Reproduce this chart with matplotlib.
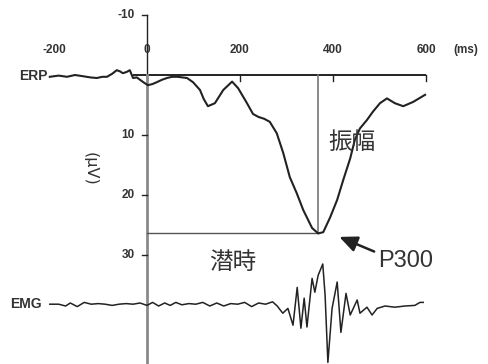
import matplotlib
matplotlib.use("Agg")
import matplotlib.pyplot as plt
from matplotlib.patches import FancyArrowPatch

# ---------------- data ----------------
x_ticks = [-200, 0, 200, 400, 600]
x_tick_labels = ["-200", "0", "200", "400", "600"]
y_ticks = [-10, 10, 20, 30]
y_tick_labels = ["-10", "10", "20", "30"]

# ERP waveform (time ms, amplitude uV; positive plotted downward)
erp_t = [-209, -190, -172, -155, -138, -122, -108, -96, -86, -75, -65, -58, -52, -44,
         -37, -30, -22, -15, -6, 2, 12, 21, 32, 43, 54, 65, 76, 86, 99, 114, 122, 131,
         146, 164, 183, 196, 215, 228, 240, 252, 264, 279, 293, 307, 322, 336, 355,
         368, 379, 394, 409, 422, 437, 447, 458, 473, 486, 501, 516, 533, 551, 572, 598]
erp_v = [0.3, 0.1, 0.3, 0.0, 0.2, 0.4, 0.5, 0.3, 0.3, -0.2, -0.8, -0.6, -0.3, -0.5,
         -0.8, 0.5, 0.4, 0.8, 1.3, 1.7, 1.5, 1.2, 0.8, 0.5, 0.3, 0.3, 0.4, 0.5, 1.2, 2.5, 4.0, 5.2,
         4.7, 2.5, 1.1, 2.2, 4.7, 6.5, 7.0, 7.3, 7.8, 9.7, 13.0, 17.0, 19.7, 22.5, 25.5,
         26.4, 26.2, 23.7, 20.8, 17.5, 13.9, 10.8, 8.9, 7.5, 6.1, 4.7, 3.9, 4.7, 5.2, 4.5, 3.3]

# EMG trace (time ms, deflection, upward positive)
emg_t = [-209, -190, -175, -165, -150, -135, -120, -105, -90, -75, -60, -45, -30, -15,
         0, 12, 25, 38, 50, 62, 75, 90, 105, 120, 135, 150, 165, 180, 195, 210, 225,
         240, 255, 270, 280, 292, 303, 314, 323, 331, 338, 344, 355, 361, 368, 378,
         383, 389, 398, 409, 417, 428, 437, 452, 458, 473, 484, 495, 512, 533, 555,
         576, 587, 594]
emg_v = [0.0, 0.0, -0.3, 0.2, -0.4, 0.3, 0.0, 0.1, 0.0, -0.2, 0.0, 0.1, 0.0, 0.2,
         -0.2, 0.3, -0.3, 0.2, -0.2, 0.3, -0.1, 0.1, 0.0, 0.3, -0.3, 0.2, -0.3, 0.1, 0.0, 0.3, -0.4,
         0.2, 0.0, 0.4, -0.3, -1.5, -0.7, -3.5, 2.8, -4.0, 1.0, -3.8, 4.3, 2.0, 4.8, 6.7,
         1.5, -9.7, -0.7, 3.7, -4.7, 1.8, -1.8, 0.7, -1.5, -0.5, -1.8, -0.7, -0.3, -0.5, -0.3,
         -0.2, 0.3, 0.3]
emg_baseline = 38.2

peak_index = erp_v.index(max(erp_v))
peak_t = erp_t[peak_index]
peak_v = erp_v[peak_index]

# ---------------- figure ----------------
fig = plt.figure(figsize=(4.88, 3.64), dpi=100)
ax = fig.add_axes([0, 0, 1, 1])
px_per_ms = 0.465
px_per_uv = 6.0
ax.set_xlim(-147 / px_per_ms, (488 - 147) / px_per_ms)
ax.set_ylim((364 - 75) / px_per_uv, -75 / px_per_uv)
ax.axis("off")

dark = "#222222"
num_font = dict(family="Liberation Sans", fontweight="bold", fontsize=8.5, color="#333333")

# x baseline + ticks
ax.plot([-30, x_ticks[-1]], [0, 0], color=dark, lw=1.4, solid_capstyle="butt")
for t in x_ticks[2:]:
    ax.plot([t, t], [0, 1.0], color=dark, lw=1.0)
for t, lab in zip(x_ticks, x_tick_labels):
    ax.text(t, -4.1, lab, ha="center", va="center", **num_font)
ax.text(658, -4.1, "(ms)", ha="left", va="center", **num_font)

# y axis + ticks
ax.plot([0, 0], [y_ticks[0], 0], color=dark, lw=1.0)
ax.plot([0, 0], [0, 48.5], color="#8a8a8a", lw=2.0)
for v, lab in zip(y_ticks, y_tick_labels):
    ax.plot([-11, 0], [v, v], color=dark, lw=1.0)
    ax.text(-27, v, lab, ha="right", va="center", **num_font)
ax.text(-123, 15.7, "(\u03bcV)", rotation=-90, ha="center", va="center",
        family="DejaVu Sans", fontsize=11.5, color="#333333")

# latency / amplitude guide lines
ax.plot([0, peak_t], [peak_v, peak_v], color="#555555", lw=1.0)
ax.plot([peak_t, peak_t], [0, peak_v], color="#777777", lw=1.2)

# ERP trace
ax.plot(erp_t, erp_v, color=dark, lw=1.5, solid_joinstyle="round")
# EMG trace
ax.plot(emg_t, [emg_baseline - e for e in emg_v], color=dark, lw=1.1, solid_joinstyle="round")

# labels
ax.text(-275, 0.1, "ERP", ha="left", va="center", family="Liberation Sans",
        fontweight="bold", fontsize=10, color="#333333")
ax.text(-295, emg_baseline, "EMG", ha="left", va="center", family="Liberation Sans",
        fontweight="bold", fontsize=10, color="#333333")

cjk = ["Noto Sans CJK JP", "DejaVu Sans"]
ax.text(441, 11.2, "振幅", ha="center", va="center", family=cjk, fontsize=17, color="#333333")
ax.text(185, 31.2, "潜時", ha="center", va="center", family=cjk, fontsize=17, color="#333333")
ax.text(557, 31.0, "P300", ha="center", va="center", family="Liberation Sans",
        fontsize=17, color="#333333")

arrow = FancyArrowPatch((494, 29.6), (408, 26.8),
                        arrowstyle="-|>,head_length=0.9,head_width=0.4",
                        mutation_scale=12, color=dark, lw=1.8)
ax.add_patch(arrow)

fig.savefig("out.png", dpi=100)
